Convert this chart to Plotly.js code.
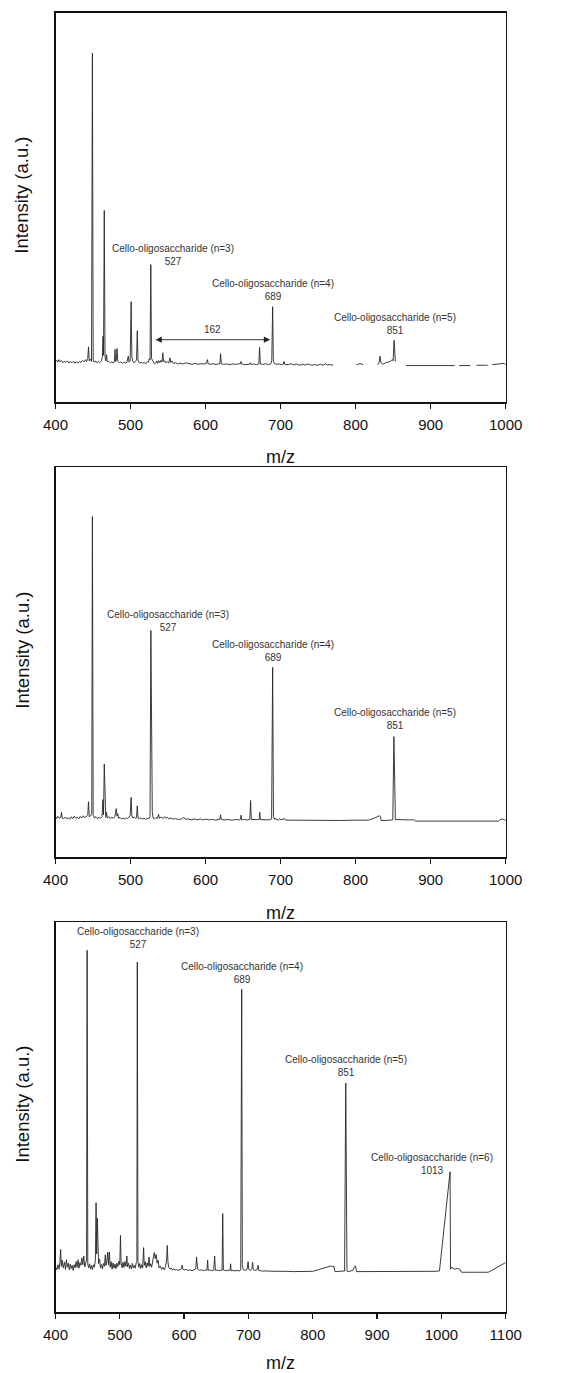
<!DOCTYPE html>
<html>
<head>
<meta charset="utf-8">
<script src="https://cdn.plot.ly/plotly-3.0.1.min.js"></script>
<style>html,body{margin:0;padding:0;background:#fff;}#chart{width:564px;height:1373px;}</style>
</head>
<body>
<div id="chart"></div>
<script>
// ---------- Panel 1 spectrum (m/z, intensity a.u.) ----------
const mz1 = [400,401.5,403,404.5,406,408,410,412,414,416,418,420,422,424,426,428,430,432,434,436,438,440,441.5,443,444,445,446.5,448,449.2,450.2,451.5,453,455,457,459,461,462.5,463.3,464,465,466,467,468,469,471,473,475,477,478.5,479.3,480,481,482,483,485,487,489,491,493,495,497,498,499.5,500.8,501.8,503,505,507,508,509,510,512,514,516,518,520,522,524,525,526,527,528,529,530.5,532,533.5,535,536,537.5,539,540.5,542,543,544,546,547,549,551,552.5,553.5,555,557,560,563,566,570,574,578,582,586,590,594,598,601,602.5,603.5,606,610,614,617,619,620,621,624,628,632,636,640,644,646.5,647.3,648,652,656,658.5,659.5,660.5,664,668,671,672,673,676,680,684,687,688.2,689.4,690.3,691.5,694,698,701,703.5,704.5,705.5,710,714,717,721,725,729,733,737,741,745,749,753,757,760,762,766,770,771,801,806,810,811,829,831,832.5,833.5,835,837,840,843,846,849,850,851.2,852,853,854,867,880,900,915,932,934,938,953,955,961,976,978,982,990,995,998,1000];
const int1 = [1.0,1.4,0.8,1.6,0.9,1.3,0.6,1.1,0.7,1.2,0.5,1.0,0.6,1.1,0.4,0.9,0.5,1.0,0.7,1.3,0.9,1.6,1.0,2.0,5.7,1.2,1.8,1.0,100,1.5,0.8,1.2,0.6,1.0,0.7,1.1,2.5,9.1,3.0,49.5,2.5,1.2,3.2,0.9,1.1,0.6,0.9,0.5,1.0,4.9,1.0,1.3,5.2,1.1,0.6,0.9,0.4,0.8,0.5,0.7,2.7,0.8,1.2,20.2,2.5,1.0,0.6,1.1,1.5,10.9,1.2,0.5,0.8,0.4,0.7,0.3,0.9,0.8,1.9,1.5,32.1,2.0,1.4,0.6,0.2,0.5,1.2,0.4,1.3,0.6,1.4,0.8,3.8,1.0,1.2,0.6,0.9,0.5,2.2,0.7,1.2,0.4,0.6,0.2,0.5,0.2,0.6,0.3,0.1,0.4,0.1,0.3,0.2,0.4,1.6,0.3,0.1,0.3,0.0,0.3,0.2,3.5,0.3,0.1,0.2,0.0,0.2,0.1,0.2,0.3,1.0,0.2,0.0,0.2,0.1,0.6,0.1,0.2,0.0,0.2,5.5,0.2,0.1,0.3,0.0,0.3,1.2,18.6,1.5,0.4,0.1,0.2,0.0,0.2,1.0,0.1,0.0,0.3,-0.1,0.2,-0.2,0.1,-0.1,0.2,-0.2,0.0,-0.2,0.1,-0.2,0.3,-0.1,0.0,-0.2,null,0.0,0.3,0.0,null,0.0,0.4,2.7,0.8,0.3,0.2,0.6,0.9,1.0,1.6,1.2,7.8,1.3,1.0,null,-0.3,-0.3,-0.3,-0.3,-0.3,null,-0.3,-0.3,null,-0.2,-0.2,null,0.0,0.1,0.4,0.4,0.0];

// ---------- Panel 2 spectrum ----------
const mz2 = [400,401.5,403,405,407,408,409,411,413,415,417,419,421,423,425,427,429,431,433,435,437,439,441,443,444,445,447,448.3,449.2,450.2,452,454,456,458,460,462,463.2,464,465,466,467,468,469,471,473,475,477,479,481,482,483,484,486,488,490,492,494,496,498,499.5,500.8,501.8,503,505,507,508,509,510,512,514,516,518,520,522,524,526,527.1,528,529,530,532,534,536,537.3,538.5,541,543,545,547,549,551,554,557,560,564,568,571,573,577,581,585,589,593,597,601,605,609,613,617,619,620,621,625,630,635,640,645,646.5,647.3,648,652,656,659,660,661,665,669,671.5,672.2,673,677,681,685,688,689.4,690.5,692,693,694,697,699,700,703,705,706,710,720,740,760,780,800,817,825,832,833,834,840,848,849.5,851,853,855,860,870,878,880,900,930,960,990,993,996,998,1000];
const int2 = [1.0,0.4,1.1,0.5,0.8,2.4,0.6,0.3,0.9,0.4,0.7,0.2,1.0,0.4,1.2,0.5,0.9,0.3,1.1,0.6,1.3,0.7,1.2,1.6,5.8,1.0,1.4,2.0,97.2,1.5,0.6,1.0,0.4,0.8,0.5,1.0,6.5,1.6,17.9,1.5,0.8,2.4,0.6,1.0,0.4,0.9,0.5,1.0,3.6,1.2,2.0,0.5,0.8,0.3,0.6,0.2,0.7,0.4,0.9,1.3,7.2,1.4,0.6,0.9,0.4,0.8,4.5,0.6,0.3,0.7,0.2,0.6,0.1,0.5,0.3,1.0,60.7,3.0,2.5,0.6,0.3,0.8,0.4,1.8,0.5,0.9,0.4,1.0,0.6,0.8,0.3,0.6,0.2,0.4,0.1,0.3,0.8,0.2,0.3,0.0,0.3,0.0,0.3,0.0,0.2,0.0,0.2,-0.1,0.1,0.2,1.6,0.1,0.0,0.1,-0.1,0.1,0.0,0.2,1.5,0.0,0.1,0.0,0.2,6.2,0.1,0.0,0.1,0.2,2.4,0.1,0.0,0.1,0.0,0.3,48.9,1.0,0.2,0.6,0.1,0.0,0.4,0.0,0.1,0.4,0.0,-0.1,-0.1,-0.2,-0.1,-0.2,-0.1,-0.1,0.6,1.3,1.1,-0.2,-0.2,-0.2,0.0,26.7,0.0,0.1,0.0,0.0,0.0,-0.4,-0.4,-0.4,-0.4,-0.4,0.1,0.3,0.0,-0.1];

// ---------- Panel 3 spectrum ----------
const mz3 = [400,402,404,405.5,407,408,409,410.5,412,414,415.5,417,418.5,420,421.5,423,424.5,426,427.5,429,430.5,432,433.5,435,436.5,438,439.5,441,442.5,444,445.5,447,448.3,449.2,450.2,451.5,453,454.5,456,457.5,459,460.5,462,463.1,464,465,466,467,468.5,470,471.5,473,474.5,476,477.5,478.5,480,481.3,482.3,483.8,485,486.5,488,489.5,491,492.5,494,495.5,497,498.5,500,501,502,503.5,505,506.5,508,509.5,511,512,513.5,515,516.5,518,519.5,521,522.5,524,525.5,526.5,527.2,528.2,529.5,531,532.5,534,535.5,537,538,539.5,541,542.5,544,545.5,546.5,548,549.5,551,552.5,553.5,555,556.5,558,559.5,561,563,565,567,569,571,572.8,573.8,574.8,576,578,580,582,584,586,588,590,592,594,596,597,598,600,603,606,609,612,615,618,619.3,620,621,624,627,630,633,635.5,636.5,637.5,640,643,646,647.5,648.5,651,654,657,659,660,661,664,667,670,671.5,672.3,673,676,679,682,685,688,689.5,690.5,692,695,698,699.5,700.5,703,705.5,706.5,707.5,710,713,715,716,720,725,730,740,750,760,770,780,790,800,810,820,828,831,833,834.5,840,848,849.5,851.3,853.2,855,859,862,865,866.5,868,880,900,930,960,990,997,1013.5,1014.2,1016,1020,1025,1029,1031,1050,1073,1100];
const int3 = [1.5,0.4,2.0,0.6,3.2,6.9,1.5,3.5,1.0,2.8,0.5,3.6,1.2,2.5,0.4,2.2,0.8,1.8,0.2,2.0,1.0,3.0,1.2,3.6,0.9,2.7,1.8,4.2,2.0,4.8,1.3,2.6,3.5,102.8,2.2,1.0,2.3,0.6,1.8,0.5,2.0,1.2,3.5,21.9,5.5,16.9,4.0,2.4,3.8,1.0,2.1,0.6,2.4,1.5,5.2,1.8,3.4,6.0,2.0,6.0,1.2,3.0,0.6,2.6,0.9,2.2,0.7,2.5,1.4,3.2,2.0,11.4,2.6,1.0,2.8,1.2,3.0,1.5,4.8,1.4,2.5,0.8,1.9,0.7,2.4,1.0,1.8,0.9,2.6,3.0,99,3.0,1.2,2.4,0.8,2.0,1.0,7.5,1.8,3.0,1.0,2.6,1.5,4.5,1.5,2.3,1.2,3.2,4.0,5.9,4.0,5.3,2.5,3.5,1.0,1.6,0.5,1.2,0.4,1.4,3.5,8.2,3.0,1.2,0.6,0.9,0.3,0.7,0.3,0.5,0.2,0.4,0.3,0.8,1.9,0.6,0.3,0.6,0.1,0.4,0.1,0.3,0.6,4.5,1.5,0.6,0.2,0.4,0.1,0.3,0.2,3.5,0.2,0.3,0.1,0.3,4.8,0.2,0.3,0.1,0.3,0.2,18.4,0.3,0.1,0.2,0.1,0.3,2.3,0.1,0.2,0.0,0.2,0.0,0.3,90.3,2.0,0.4,0.2,0.6,3.0,0.5,0.2,0.8,2.8,0.4,0.2,0.3,1.8,0.2,0.0,0.1,0.0,-0.1,0.0,-0.1,-0.2,-0.2,-0.2,-0.1,0.5,1.0,1.6,1.4,1.5,-0.2,-0.2,-0.2,0.0,60.2,0.0,-0.2,-0.1,0.2,1.4,1.6,-0.2,-0.2,-0.3,-0.2,-0.2,-0.1,0.0,31.8,0.6,1.2,0.6,0.8,0.5,-0.4,-0.4,-0.4,2.7];

// ---------- Labels ----------
const xTickVals1 = [400,500,600,700,800,900,1000];
const xTickVals3 = [400,500,600,700,800,900,1000,1100];
const xTitle = "m/z";
const yTitle = "Intensity (a.u.)";
const peakNames1 = ["Cello-oligosaccharide (n=3)","Cello-oligosaccharide (n=4)","Cello-oligosaccharide (n=5)"];
const peakMasses1 = ["527","689","851"];
const peakNames3 = ["Cello-oligosaccharide (n=3)","Cello-oligosaccharide (n=4)","Cello-oligosaccharide (n=5)","Cello-oligosaccharide (n=6)"];
const peakMasses3 = ["527","689","851","1013"];
const spacingLabel = "162";

// label anchor positions (data coords) per panel
const lab1x = [556.4, 689.7, 852], lab1y = [35.2, 24.1, 13.2];
const lab2x = [549.3, 689.7, 852], lab2y = [63.6, 54.2, 32.4];
const lab3x = [527.5, 690, 852.4, 985.4], lab3y = [106.8, 95.4, 65.8, 34.4];

const W = 564, H = 1373;
const lineStyle = {color:'#262626', width:0.9};
const traces = [
  {x:mz1, y:int1, type:'scatter', mode:'lines', line:lineStyle, connectgaps:false, xaxis:'x', yaxis:'y', hoverinfo:'x+y'},
  {x:mz2, y:int2, type:'scatter', mode:'lines', line:lineStyle, connectgaps:false, xaxis:'x2', yaxis:'y2', hoverinfo:'x+y'},
  {x:mz3, y:int3, type:'scatter', mode:'lines', line:lineStyle, connectgaps:false, xaxis:'x3', yaxis:'y3', hoverinfo:'x+y'}
];

const xd = [55.5/W, 505.7/W];
function ydom(top, bottom){ return [(H-bottom)/H, (H-top)/H]; }
const tickFont = {family:'Liberation Sans, Arial, sans-serif', size:15, color:'#111'};
function xax(range, tv, anchor){
  return {domain:xd, range:range, tickvals:tv, ticks:'outside', ticklen:5, tickwidth:1.3, tickcolor:'#111',
    ticklabelstandoff:3,
    showline:true, linecolor:'#111', linewidth:1.5, mirror:true, showgrid:false, zeroline:false,
    tickfont:tickFont, anchor:anchor, fixedrange:true,
    title:{text:xTitle, font:{family:'Liberation Sans, Arial, sans-serif', size:18, color:'#111'}, standoff:19}};
}
function yax(range, dom, anchor){
  return {domain:dom, range:range, showticklabels:false, ticks:'', showline:true, linecolor:'#111', linewidth:1.5,
    mirror:true, showgrid:false, zeroline:false, anchor:anchor, fixedrange:true};
}

const annFont = {family:'Liberation Sans, Arial, sans-serif', size:10, color:'#333'};
const annotations = [];
function addLabels(names, masses, xs, ys, xref, yref){
  for (let i=0;i<names.length;i++){
    annotations.push({x:xs[i], y:ys[i], xref:xref, yref:yref, text:names[i]+'<br>'+masses[i],
      showarrow:false, align:'center', xanchor:'center', yanchor:'middle', font:annFont});
  }
}
addLabels(peakNames1, peakMasses1, lab1x, lab1y, 'x', 'y');
addLabels(peakNames1, peakMasses1, lab2x, lab2y, 'x2', 'y2');
addLabels(peakNames3, peakMasses3, lab3x, lab3y, 'x3', 'y3');
// 162 spacing arrow (double-headed) and its label
annotations.push({x:686, y:8.0, ax:531.3, ay:8.0, xref:'x', yref:'y', axref:'x', ayref:'y', text:'',
  showarrow:true, arrowhead:2, startarrowhead:2, arrowside:'end+start', arrowsize:1.4, startarrowsize:1.4, arrowwidth:0.9, arrowcolor:'#222'});
annotations.push({x:609.6, y:11.2, xref:'x', yref:'y', text:spacingLabel, showarrow:false, xanchor:'center', yanchor:'middle', font:annFont});
// y-axis titles
const yTitleY = [195, 650, 1104];
yTitleY.forEach(function(py){
  annotations.push({x:21.7/W, y:(H-py)/H, xref:'paper', yref:'paper', text:yTitle, textangle:-90, showarrow:false,
    xanchor:'center', yanchor:'middle', font:{family:'Liberation Sans, Arial, sans-serif', size:18.5, color:'#111'}});
});

const layout = {
  width:W, height:H, margin:{l:0,r:0,t:0,b:0}, paper_bgcolor:'#fff', plot_bgcolor:'#fff', showlegend:false,
  font:{family:'Liberation Sans, Arial, sans-serif'},
  xaxis: xax([400,1000], xTickVals1, 'y'),
  yaxis: yax([-12,113], ydom(12.7,402), 'x'),
  xaxis2: xax([400,1000], xTickVals1, 'y2'),
  yaxis2: yax([-12,113], ydom(467.3,857.3), 'x2'),
  xaxis3: xax([400,1100], xTickVals3, 'y3'),
  yaxis3: yax([-13.24,111.76], ydom(922.3,1312.3), 'x3'),
  annotations: annotations
};
Plotly.newPlot('chart', traces, layout, {displayModeBar:false, staticPlot:true});
</script>
</body>
</html>
